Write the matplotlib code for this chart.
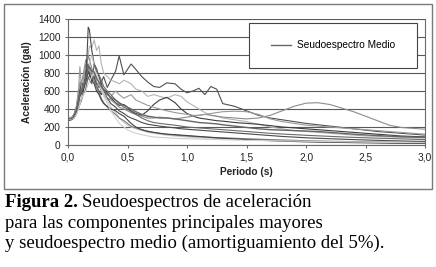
import matplotlib
matplotlib.use("Agg")
import matplotlib.pyplot as plt
from matplotlib.patches import Rectangle
from matplotlib.ticker import FuncFormatter

# periodos (s) comunes a todas las curvas
periodos = [0.00, 0.03, 0.05, 0.07, 0.09, 0.10, 0.11, 0.13, 0.15, 0.16, 0.17, 0.18, 0.20, 0.22, 0.24, 0.26, 0.28, 0.30,
            0.33, 0.36, 0.40, 0.43, 0.47, 0.50, 0.53, 0.57, 0.62, 0.67, 0.72, 0.77, 0.83, 0.90, 0.95,
            1.00, 1.05, 1.10, 1.15, 1.20, 1.25, 1.30,
            1.4, 1.5, 1.6, 1.7, 1.8, 1.9, 2.0, 2.1, 2.2, 2.3, 2.4, 2.5, 2.6, 2.7, 2.8, 2.9, 3.0]

# seudoespectros de las componentes (gal)
comp_a = [290, 300, 340, 420, 560, 620, 580, 700, 820, 760, 880, 800, 720, 760, 680, 640, 700, 760,
          640, 720, 820, 990, 780, 840, 900, 840, 760, 700, 650, 640, 690, 680, 620,
          580, 600, 630, 560, 650, 620, 460,
          430, 380, 330, 300, 280, 260, 240, 225, 210, 195, 180, 165, 150, 140, 130, 120, 110]
comp_b = [280, 290, 320, 380, 500, 560, 620, 700, 800, 900, 1000, 1100, 1080, 1170, 1050, 1100, 900, 800,
          760, 720, 700, 680, 720, 700, 680, 620, 600, 540, 560, 540, 520, 560, 540,
          480, 440, 400, 360, 330, 320, 300,
          280, 260, 230, 200, 180, 160, 150, 140, 130, 120, 110, 100, 95, 90, 85, 80, 78]
comp_c = [280, 290, 310, 380, 520, 600, 700, 650, 760, 900, 850, 780, 700, 760, 650, 600, 560, 620,
          580, 520, 470, 440, 450, 420, 380, 350, 330, 380, 450, 500, 530, 470, 400,
          350, 320, 300, 290, 280, 270, 265,
          250, 240, 230, 215, 200, 190, 180, 170, 160, 150, 140, 130, 120, 110, 100, 95, 90]
comp_d = [300, 310, 330, 400, 600, 700, 650, 800, 950, 900, 1000, 950, 850, 800, 700, 660, 600, 560,
          520, 500, 460, 420, 400, 380, 360, 340, 320, 300, 300, 310, 300, 290, 300,
          310, 320, 330, 340, 330, 320, 310,
          300, 290, 300, 330, 380, 430, 465, 470, 450, 410, 370, 320, 270, 220, 195, 185, 175]
comp_e = [290, 300, 330, 420, 640, 870, 700, 750, 900, 850, 800, 820, 780, 700, 650, 700, 620, 560,
          500, 540, 600, 560, 520, 540, 560, 500, 470, 440, 420, 400, 380, 360, 350,
          340, 330, 330, 340, 350, 360, 370,
          375, 370, 340, 290, 260, 240, 220, 210, 200, 190, 180, 170, 160, 150, 140, 130, 120]
comp_f = [270, 280, 300, 350, 450, 500, 480, 600, 800, 1000, 1310, 1280, 1050, 900, 850, 760, 680, 600,
          520, 460, 420, 380, 350, 320, 300, 280, 250, 230, 220, 210, 200, 190, 180,
          175, 170, 165, 160, 155, 150, 145,
          135, 125, 115, 105, 95, 88, 80, 75, 70, 65, 60, 56, 52, 48, 45, 42, 40]
comp_g = [300, 310, 320, 360, 420, 480, 520, 560, 650, 700, 800, 900, 1000, 880, 800, 700, 640, 580,
          500, 420, 360, 300, 250, 220, 200, 180, 160, 140, 130, 120, 110, 100, 95,
          90, 85, 80, 78, 75, 72, 70,
          65, 60, 55, 50, 46, 43, 40, 37, 35, 33, 31, 30, 28, 27, 26, 25, 24]
comp_h = [280, 285, 300, 340, 420, 450, 500, 560, 620, 700, 760, 720, 680, 900, 820, 780, 720, 650,
          600, 560, 500, 460, 420, 400, 370, 340, 300, 270, 250, 240, 230, 220, 210,
          200, 195, 190, 185, 180, 175, 170,
          160, 150, 140, 130, 122, 115, 108, 102, 96, 90, 85, 80, 76, 72, 68, 64, 60]
comp_i = [290, 295, 310, 360, 480, 560, 600, 680, 720, 780, 900, 850, 800, 720, 640, 580, 520, 470,
          420, 380, 340, 300, 270, 240, 210, 190, 170, 155, 140, 130, 120, 110, 105,
          100, 96, 92, 88, 85, 82, 80,
          75, 70, 65, 60, 56, 52, 48, 45, 42, 40, 38, 36, 34, 32, 31, 30, 29]
comp_j = [300, 290, 320, 380, 500, 540, 560, 620, 700, 760, 820, 780, 720, 680, 600, 560, 500, 460,
          430, 400, 380, 350, 320, 280, 240, 200, 170, 150, 140, 130, 120, 115, 110,
          105, 100, 95, 90, 85, 80, 75,
          68, 60, 54, 48, 43, 39, 35, 32, 30, 28, 26, 24, 22, 20, 19, 18, 17]
comp_k = [280, 290, 300, 340, 400, 460, 500, 560, 600, 640, 680, 700, 760, 820, 760, 700, 620, 540,
          460, 380, 300, 240, 200, 170, 150, 130, 115, 100, 90, 85, 80, 75, 72,
          70, 68, 66, 64, 62, 60, 58,
          55, 52, 50, 48, 46, 44, 42, 40, 38, 36, 34, 32, 30, 29, 28, 27, 26]

# seudoespectro medio (gal)
medio = [290, 295, 320, 380, 500, 570, 590, 650, 760, 800, 860, 870, 820, 810, 740, 700, 650, 610,
         560, 530, 500, 470, 440, 420, 400, 370, 340, 320, 310, 300, 300, 290, 280,
         270, 260, 250, 245, 240, 235, 225,
         210, 195, 180, 170, 165, 160, 155, 150, 140, 130, 120, 112, 105, 98, 92, 88, 85]

componentes = [comp_a, comp_b, comp_c, comp_d, comp_e, comp_f, comp_g, comp_h, comp_i, comp_j, comp_k]
grises = ["#505050", "#b4b4b4", "#3c3c3c", "#8c8c8c", "#9a9a9a", "#4a4a4a",
          "#c8c8c8", "#6a6a6a", "#7a7a7a", "#444444", "#d0d0d0"]

y_ticks = [0, 200, 400, 600, 800, 1000, 1200, 1400]
x_ticks = [0.0, 0.5, 1.0, 1.5, 2.0, 2.5, 3.0]

W, H = 436, 267
fig = plt.figure(figsize=(W / 100, H / 100), dpi=100)
plt.rcParams['font.family'] = ['Liberation Sans', 'DejaVu Sans']

# marco exterior del grafico
fig.patches.append(Rectangle((4 / W, (H - 189) / H), 428 / W, 185 / H, transform=fig.transFigure,
                             fill=False, edgecolor="#7a7a7a", linewidth=1.0))

ax = fig.add_axes([68 / W, (H - 145) / H, 357 / W, 126 / H])
for serie, c in zip(componentes, grises):
    ax.plot(periodos, serie, color=c, linewidth=0.8)
ax.plot(periodos, medio, color="#666666", linewidth=1.0, label="Seudoespectro Medio")

ax.set_xlim(0, 3.0)
ax.set_ylim(0, 1400)
ax.set_yticks(y_ticks)
ax.set_xticks(x_ticks)
ax.xaxis.set_major_formatter(FuncFormatter(lambda v, p: f"{v:.1f}".replace(".", ",")))
ax.yaxis.grid(True, color="#5a5a5a", linewidth=0.8)
ax.set_axisbelow(True)
ax.tick_params(labelsize=7.3, length=2.5, width=0.8, colors="#6a6a6a", labelcolor="#222222", pad=3)
for s in ax.spines.values():
    s.set_color("#6a6a6a")
    s.set_linewidth(0.8)
ax.spines["top"].set_visible(False)
ax.set_xlabel("Periodo (s)", fontsize=7.3, fontweight="bold", color="#222222", labelpad=3)
ax.set_ylabel("Aceleración (gal)", fontsize=7.3, fontweight="bold", color="#222222", labelpad=4)

# recuadro de la leyenda
ax.add_patch(Rectangle((0.507, 0.611), 0.471, 0.357, transform=ax.transAxes, facecolor="white",
                       edgecolor="#444444", linewidth=0.8, zorder=5))
leg = ax.legend(loc="center", bbox_to_anchor=(0.742, 0.79), frameon=False, fontsize=7.3,
                handlelength=2.0, handletextpad=0.5)
leg.set_zorder(6)

# pie de figura
fs = 13.5
r = fig.canvas.get_renderer()
t1 = fig.text(5 / W, (H - 207) / H, "Figura 2.", fontsize=fs, fontweight="bold",
              family="Liberation Serif", va="baseline")
bb = t1.get_window_extent(renderer=r)
fig.text(bb.x1 / W + 4 / W, (H - 207) / H, "Seudoespectros de aceleración", fontsize=fs,
         family="Liberation Serif", va="baseline")
fig.text(5 / W, (H - 228) / H, "para las componentes principales mayores", fontsize=fs,
         family="Liberation Serif", va="baseline")
fig.text(5 / W, (H - 248) / H, "y seudoespectro medio (amortiguamiento del 5%).", fontsize=fs,
         family="Liberation Serif", va="baseline")

fig.savefig("out.png", dpi=100)
